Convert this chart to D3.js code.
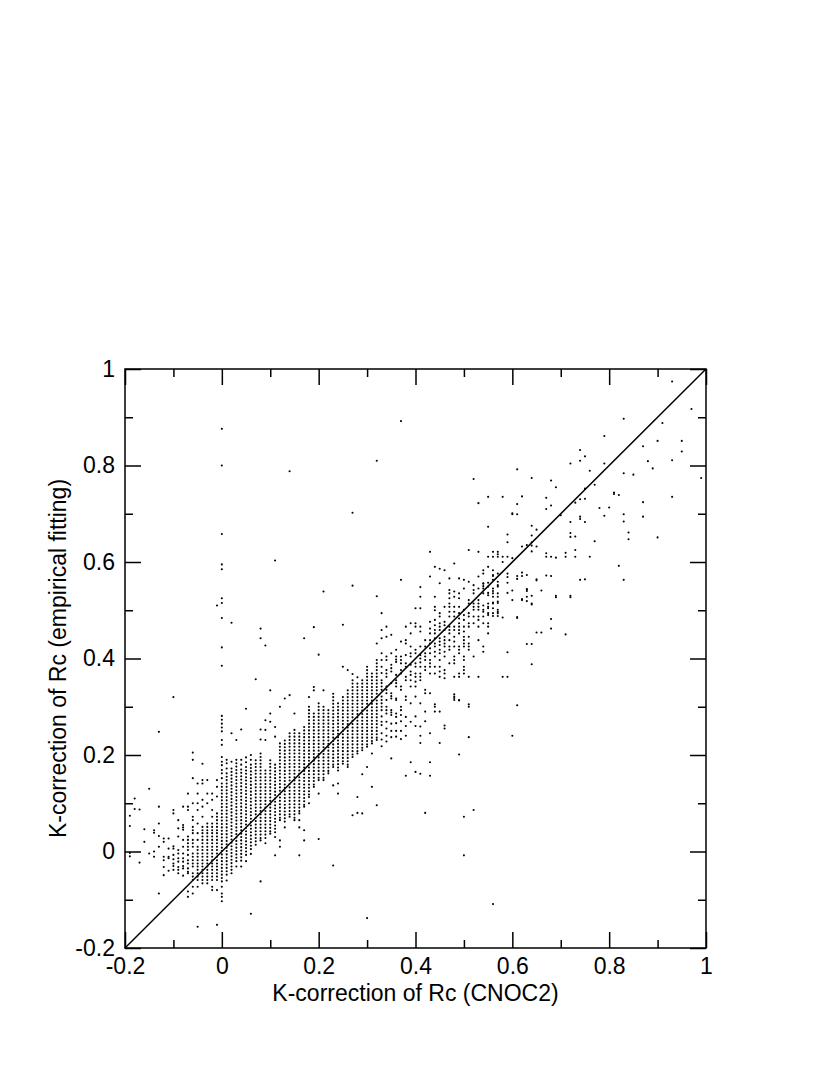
<!DOCTYPE html>
<html><head><meta charset="utf-8">
<script src="https://cdn.jsdelivr.net/npm/d3@7"></script>
<style>body{margin:0;background:#fff}</style>
</head><body>
<svg id="c" width="830" height="1075"></svg>
<script>
// x values of the data columns (CNOC2 K-correction, in hundredths)
const colX = [-19,-18,-17,-16,-15,-14,-13,-12,-11,-10,-9,-8,-7,-6,-5,-4,-3,-2,-1,0,
  1,2,3,4,5,6,7,8,9,10,11,12,13,14,15,16,17,18,19,20,21,22,23,24,25,26,27,28,29,30,31,32,
  33,34,35,36,37,38,39,40,41,42,43,44,45,46,47,48,49,50,51,52,53,54,55,56,57,
  58,59,60,61,62,63,64,65,66,67,68,69,70,71,72,73,74,75,76,77,78,79,80,81,82,83,84,85,87,88,89,90,91,93,95,97,99];
// y values (empirical fitting K-correction, in thousandths) for each column
const colY = [
 [74,53,-3,-10],
 [110,88],
 [87,-23],
 [46,20],
 [130,-4],
 [44,39,0,-11],
 [248,93,58,32,10,-87],
 [27,20,-11,-18,-32,-49],
 [27,6,-11,-14,-40],
 [320,86,79,11,6,-7,-16,-25,-30,-38],
 [65,48,31,3,-4,-14,-21,-32,-38,-45],
 [93,55,50,45,24,10,-4,-14,-21,-30,-35,-50],
 [120,93,86,31,24,17,10,3,-7,-18,-25,-35,-42,-45,-83,-94],
 [205,190,152,100,72,65,51,44,38,24,17,10,-4,-11,-18,-25,-31,-45,-52,-59,-73,-87],
 [141,120,100,86,58,38,24,10,3,-4,-11,-18,-25,-31,-38,-45,-52,-59,-73,-156],
 [182,148,141,107,93,72,51,44,38,31,24,17,10,3,-4,-11,-18,-25,-31,-38,-45,-52,-59,-66],
 [148,120,100,58,51,44,38,31,24,17,10,3,-4,-11,-18,-25,-31,-38,-45,-52,-59,-66],
 [120,107,86,72,58,51,44,38,31,24,17,10,3,-4,-11,-18,-25,-31,-38,-45,-52,-59,-73,-80],
 [510,148,134,114,79,72,65,58,51,44,38,31,24,17,10,3,-4,-11,-18,-25,-31,-38,-45,-52,-59,-80,-152],
 [876,800,658,595,585,525,515,484,423,385,281,273,265,257,249,231,221,196,186,179,169,162,152,141,134,127,120,113,106,99,92,85,78,71,64,57,50,43,36,29,22,15,8,1,-6,-13,-20,-27,-34,-41,-48,-55,-62,-73,-87,-94,-103],
 [190,183,172,162,155,148,141,134,127,120,113,106,99,92,85,78,71,64,57,50,43,36,29,22,15,8,1,-6,-13,-20,-27,-34,-41,-48,-60],
 [474,245,186,172,165,158,151,144,137,130,123,116,109,102,95,88,81,74,67,60,53,46,39,32,25,18,11,4,-3,-10,-17,-24,-31,-38,-45],
 [231,190,183,176,169,162,155,148,141,134,127,120,113,106,99,92,85,78,71,64,57,50,43,36,29,22,15,8,1,-6,-13,-20,-31],
 [253,190,180,170,163,156,149,142,135,128,121,114,107,100,93,86,79,72,65,58,51,44,37,30,23,16,9,2,-5,-12,-19,-31],
 [296,195,185,175,168,161,154,147,140,133,126,119,112,105,98,91,84,77,70,63,56,49,42,35,28,21,14,7,0,-7,-20],
 [200,190,180,173,166,159,152,145,138,131,124,117,110,103,96,89,82,75,68,61,54,47,40,33,26,19,12,5,-5,-129],
 [357,189,182,175,168,161,154,147,140,133,126,119,112,105,98,91,84,77,70,63,56,49,42,35,28,21,14],
 [462,442,253,232,203,196,189,182,175,168,161,154,147,140,133,126,119,112,105,98,91,84,77,70,63,56,49,42,35,28,23,-62],
 [427,272,252,231,168,161,154,147,140,133,126,119,112,105,98,91,84,77,70,63,56,49,42,35,28,17],
 [334,286,269,189,182,175,168,161,154,147,140,133,126,119,112,105,98,91,84,77,70,63,56,49,42,37],
 [603,258,238,180,173,166,159,152,145,138,131,124,117,110,103,96,89,82,75,68,61,54,47,40,30,-8],
 [300,224,217,210,203,196,189,182,175,168,161,154,147,140,133,126,119,112,105,98,91,84,77,70,65,23,10],
 [317,230,223,216,209,202,195,188,181,174,167,160,153,146,139,132,125,118,111,104,97,90,83,76,69,62,50],
 [788,324,245,238,231,224,217,210,203,196,189,182,175,168,161,154,147,140,133,126,119,112,105,98,91,84,77,72],
 [286,252,245,238,231,224,217,210,203,196,189,182,175,168,161,154,147,140,133,126,119,112,105,98,91,84,77,70,65],
 [245,238,231,224,217,210,203,196,189,182,175,168,161,154,147,140,133,126,119,112,105,98,91,84,79,65,50,-8],
 [442,258,251,244,237,230,223,216,209,202,195,188,181,174,167,160,153,146,139,132,125,118,111,104,97,93,44,23],
 [320,300,293,286,279,272,265,258,251,244,237,230,223,216,209,202,195,188,181,174,167,160,153,146,139,132,125,118,113,100],
 [465,341,334,286,279,272,265,258,251,244,237,230,223,216,209,202,195,188,181,174,167,160,153,146,139,134],
 [408,307,300,293,286,279,272,265,258,251,244,237,230,223,216,209,202,195,188,181,174,167,160,153,148,120,26],
 [539,334,300,293,286,279,272,265,258,251,244,237,230,223,216,209,202,195,188,181,174,167,160,153,148],
 [293,286,279,272,265,258,251,244,237,230,223,216,209,202,195,188,181,174,167,162],
 [327,320,313,306,299,292,285,278,271,264,257,250,243,236,229,222,215,208,201,194,187,180,175,137,-29],
 [307,300,293,286,279,272,265,258,251,244,237,230,223,216,209,202,195,188,181,174,168,141,120],
 [470,383,320,313,306,299,292,285,278,271,264,257,250,243,236,229,222,215,208,201,194,187,182],
 [376,334,327,320,313,306,299,292,285,278,271,264,257,250,243,236,229,222,215,208,201,194,187,180,175],
 [702,551,368,355,348,341,334,327,320,313,306,299,292,285,278,271,264,257,250,243,236,229,222,215,208,201,196,75],
 [361,348,341,334,327,320,313,306,299,292,285,278,271,264,257,250,243,236,229,222,215,208,203,113,80],
 [355,348,341,334,327,320,313,306,299,292,285,278,271,264,257,250,243,236,229,222,215,210,160,79],
 [383,376,369,362,355,348,341,334,327,320,313,306,299,292,285,278,271,264,257,250,243,236,229,222,217,175,-138],
 [369,362,355,348,341,334,327,320,313,306,299,292,285,278,271,264,257,250,243,236,229,224,203,134],
 [810,529,431,397,390,383,376,369,362,355,348,341,334,327,320,313,306,299,292,285,278,271,264,257,250,243,236,231,96],
 [494,459,442,411,397,383,370,355,349,342,335,321,314,307,300,293,280,269,262,245,232,218],
 [466,445,404,397,376,369,362,342,335,328,314,300,293,286,269,255,240,228],
 [449,411,387,380,373,349,328,322,317,293,288,283,265,250,237,193],
 [418,404,398,393,366,355,349,342,317,314,286,279,266,250,238],
 [892,563,435,404,397,390,376,369,342,335,300,293,283,270,250,233],
 [466,438,431,407,390,383,362,355,321,314,279,260,240,157],
 [473,452,425,411,404,387,373,366,355,342,307,269,185],
 [504,473,466,418,411,390,383,369,362,352,342,321,280,260,165],
 [548,528,504,466,456,425,407,400,392,383,369,362,355,307,259,240,225,161],
 [438,425,411,404,397,383,376,335,328,290,270,80],
 [621,570,476,462,452,438,431,421,411,397,390,383,369,328,245,185,157],
 [590,528,507,500,480,469,459,452,442,431,425,414,404,383,369,305,300,290],
 [586,556,494,487,473,466,459,442,435,428,418,411,397,383,373,362,290,225],
 [583,507,476,469,459,445,438,431,425,414,404,376,369,359,261,255],
 [566,542,535,525,514,507,497,487,466,459,452,438,425,418,390],
 [597,539,528,507,497,487,466,459,445,435,425,404,397,390,362,326,321,318,314],
 [566,535,525,507,494,483,473,466,459,452,425,418,411,369,362,314,313,201],
 [563,545,501,490,480,466,456,445,438,431,425,404,397,383,376,369,72,-8],
 [625,559,521,514,494,487,473,466,445,431,425,418,362,305,300,237],
 [772,552,542,535,514,507,501,487,473,404,86],
 [722,621,570,545,521,514,507,501,487,480,466,438,362],
 [583,576,556,555,550,545,535,510,501,497,487,473,425,414],
 [735,673,611,590,557,549,536,531,514,507,504,494,490,473,466,452],
 [621,611,583,573,571,563,545,540,535,528,516,514,504,494,488,-109],
 [621,616,611,576,559,552,549,535,528,518,515,501,497,494,488],
 [735,611,600,485,362],
 [657,641,611,576,569,557,536,413,362],
 [701,699,608,541,521,240],
 [792,720,699,571,565,486,484,303],
 [736,632,578,571,523,521],
 [635,573,544,543,540,528,519,430],
 [774,675,655,641,634,622,530,514,512,430,388],
 [667,632,564,562,454],
 [541,454],
 [733,710,618,611,572],
 [769,717,611,571,482,462],
 [755,609,530,527],
 [697],
 [619,611,450],
 [804,683,660,652,530,527],
 [723,653,625,611],
 [832,810,730,694,689,563],
 [819,752,731,683,564],
 [789,611],
 [760,643],
 [712],
 [861,804,696],
 [713],
 [744,741],
 [739,592],
 [897,784,699,684,563],
 [661,647],
 [781],
 [840,724,694],
 [809],
 [794],
 [851,651],
 [888],
 [974,811,735],
 [851,829],
 [917],
 [774]
];
const majorTicks = [-0.2, 0, 0.2, 0.4, 0.6, 0.8, 1];
const minorTicks = [-0.1, 0.1, 0.3, 0.5, 0.7, 0.9];
const tickLabels = ["-0.2", "0", "0.2", "0.4", "0.6", "0.8", "1"];
const diagonal = [[-0.2, -0.2], [1, 1]];
const xTitle = "K-correction of Rc (CNOC2)";
const yTitle = "K-correction of Rc (empirical fitting)";

const points = colX.flatMap((cx, i) => colY[i].map(cy => [cx / 100, cy / 1000]));

const FONT = "'Liberation Sans', Arial, Helvetica, sans-serif";
const svg = d3.select("#c");
const x = d3.scaleLinear().domain([-0.2, 1]).range([125, 706]);
const y = d3.scaleLinear().domain([-0.2, 1]).range([948, 369]);

svg.append("g").selectAll("circle").data(points).join("circle")
  .attr("cx", d => x(d[0])).attr("cy", d => y(d[1])).attr("r", 1.05).attr("fill", "#000");

svg.append("path").datum(diagonal)
  .attr("d", d3.line().x(d => x(d[0])).y(d => y(d[1])))
  .attr("stroke", "#000").attr("stroke-width", 1.5).attr("fill", "none");

function styleAxis(sel) {
  sel.select(".domain").remove();
  sel.attr("font-family", FONT).attr("font-size", 23);
  sel.selectAll(".tick line").attr("stroke", "#000").attr("stroke-width", 1.5);
  sel.selectAll(".tick text").attr("fill", "#000");
}
const pBottom = y(-0.2), pTop = y(1), pLeft = x(-0.2), pRight = x(1);
svg.append("g").attr("transform", `translate(0,${pBottom})`)
  .call(d3.axisBottom(x).tickValues(majorTicks).tickSize(-16).tickPadding(10).tickFormat((d, i) => tickLabels[i])).call(styleAxis);
svg.append("g").attr("transform", `translate(0,${pBottom})`)
  .call(d3.axisBottom(x).tickValues(minorTicks).tickSize(-8).tickFormat("")).call(styleAxis);
svg.append("g").attr("transform", `translate(0,${pTop})`)
  .call(d3.axisTop(x).tickValues(majorTicks).tickSize(-16).tickFormat("")).call(styleAxis);
svg.append("g").attr("transform", `translate(0,${pTop})`)
  .call(d3.axisTop(x).tickValues(minorTicks).tickSize(-8).tickFormat("")).call(styleAxis);
svg.append("g").attr("transform", `translate(${pLeft},0)`)
  .call(d3.axisLeft(y).tickValues(majorTicks).tickSize(-16).tickPadding(10).tickFormat((d, i) => tickLabels[i])).call(styleAxis);
svg.append("g").attr("transform", `translate(${pLeft},0)`)
  .call(d3.axisLeft(y).tickValues(minorTicks).tickSize(-8).tickFormat("")).call(styleAxis);
svg.append("g").attr("transform", `translate(${pRight},0)`)
  .call(d3.axisRight(y).tickValues(majorTicks).tickSize(-16).tickFormat("")).call(styleAxis);
svg.append("g").attr("transform", `translate(${pRight},0)`)
  .call(d3.axisRight(y).tickValues(minorTicks).tickSize(-8).tickFormat("")).call(styleAxis);

svg.append("rect").attr("x", pLeft).attr("y", pTop).attr("width", pRight - pLeft).attr("height", pBottom - pTop)
  .attr("fill", "none").attr("stroke", "#000").attr("stroke-width", 1.5);

svg.append("text").attr("x", (pLeft + pRight) / 2).attr("y", 1001).attr("text-anchor", "middle")
  .attr("font-family", FONT).attr("font-size", 23).attr("fill", "#000").text(xTitle);
svg.append("text").attr("transform", `translate(66,${(pTop + pBottom) / 2}) rotate(-90)`).attr("text-anchor", "middle")
  .attr("font-family", FONT).attr("font-size", 23).attr("fill", "#000").text(yTitle);
</script>
</body></html>
